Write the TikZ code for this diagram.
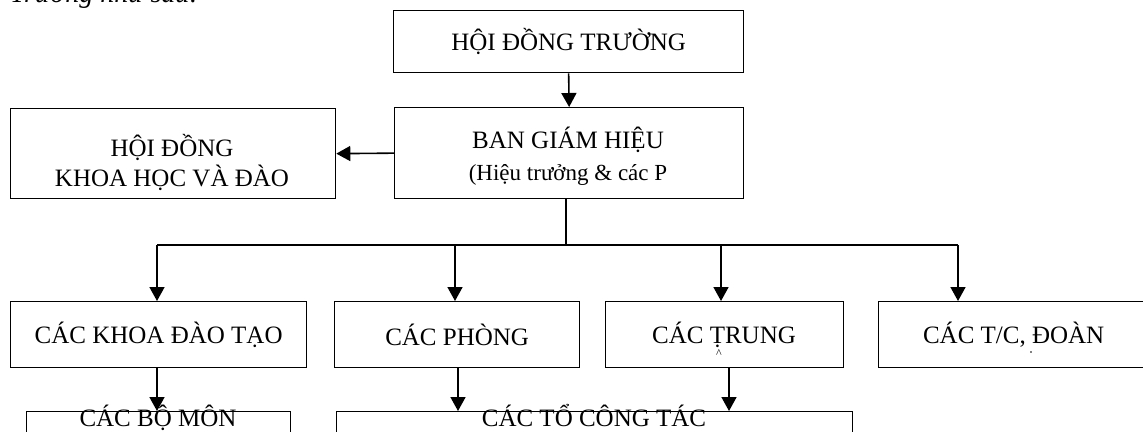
\documentclass[tikz,border=0pt]{standalone}
\usepackage{fontspec}
\setmainfont{Liberation Serif}
\usetikzlibrary{arrows.meta}
\begin{document}
\begin{tikzpicture}[x=1pt,y=-1pt,
  box/.style={draw,line width=1.3pt,inner sep=0pt,align=center,anchor=north west,font=\fontsize{25}{33}\selectfont},
  conn/.style={line width=1.6pt,-{Triangle[length=14pt,width=15pt]}},
  plain/.style={line width=1.6pt},
  txt/.style={inner sep=0pt,anchor=base,font=\fontsize{25}{33}\selectfont}]
\useasboundingbox (0,0) rectangle (1143,431);
% cut-off text line above
\node[txt,anchor=base west,font=\fontsize{28}{33}\selectfont\itshape] (intro) at (10,2) {Trường như sau:};
% boxes
\node[box,minimum width=350pt,minimum height=62pt] (hdt) at (393,10) {HỘI ĐỒNG TRƯỜNG};
\node[box,minimum width=349pt,minimum height=91pt] (bgh) at (394,107) {};
\node[txt] (bgh1) at (568,148) {BAN GIÁM HIỆU};
\node[txt,font=\fontsize{23}{33}\selectfont] (bgh2) at (568,180) {(Hiệu trưởng \& các P};
\node[box,minimum width=325pt,minimum height=90pt] (hdkh) at (10,108) {};
\node[txt] (hdkh1) at (172,156) {HỘI ĐỒNG};
\node[txt] (hdkh2) at (172,186) {KHOA HỌC VÀ ĐÀO};
\node[box,minimum width=296pt,minimum height=66pt] (khoa) at (10,301) {CÁC KHOA ĐÀO TẠO};
\node[box,minimum width=245pt,minimum height=66pt] (phong) at (334,301) {CÁC PHÒNG};
\node[box,minimum width=238pt,minimum height=66pt] (trung) at (605,301) {};
\node[txt] (trungt) at (724,343) {CÁC ṬRUNG};
\node[txt,font=\fontsize{12}{12}\selectfont] (trungc) at (719,357) {\^{}};
\node[box,minimum width=270pt,minimum height=66pt] (tc) at (878,301) {CÁC T/C, ĐOÀN};
\node[fill,circle,inner sep=0.6pt] (tcdot) at (1031,352) {};
\node[box,minimum width=264pt,minimum height=60pt] (bomon) at (26,411) {};
\node[txt] (bomont) at (158,426) {CÁC BỘ MÔN};
\node[box,minimum width=516pt,minimum height=60pt] (to) at (336,411) {};
\node[txt] (tot) at (594,426) {CÁC TỔ CÔNG TÁC};
% connectors
\coordinate (bus) at (566,245);
\coordinate (busL) at (157,245);
\coordinate (busR) at (958,245);
\draw[plain] (bgh.south -| bus) -- (bus);
\draw[plain] (busL) -- (busR);
\draw[conn] (hdt.south) -- (bgh.north);
\draw[conn] (bgh.west) -- (hdkh.east);
\draw[conn] (busL) -- (busL |- khoa.north);
\draw[conn] (455,245) -- (455,301);
\draw[conn] (721,245) -- (721,301);
\draw[conn] (busR) -- (busR |- tc.north);
\draw[conn] (khoa.south -| busL) -- (busL |- bomon.north);
\draw[conn] (458,367) -- (458,411);
\draw[conn] (729,367) -- (729,411);
\end{tikzpicture}
\end{document}
